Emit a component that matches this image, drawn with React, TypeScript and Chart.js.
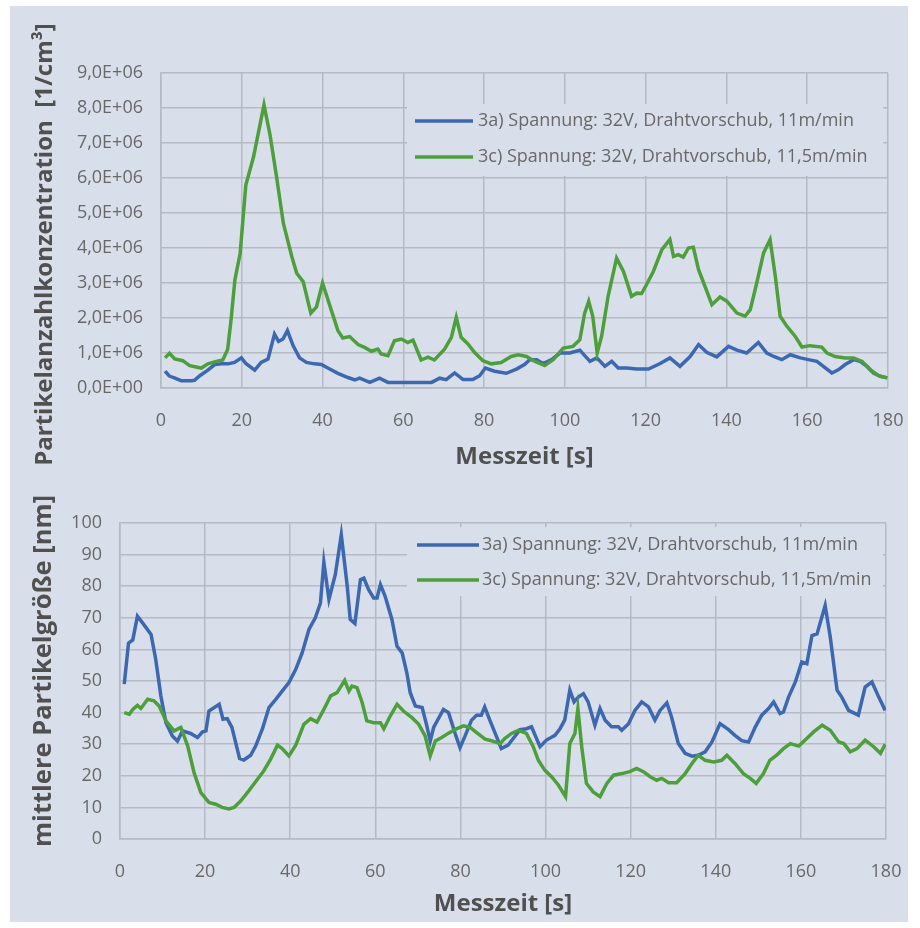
import React, { useEffect, useRef } from "react";
import { Chart, registerables } from "chart.js";

Chart.register(...registerables);

// ---------- Data: top chart (Partikelanzahlkonzentration, in 1E+06 /cm³) ----------
const topBlueT = [1, 2, 3, 5, 7.5, 8.3, 9.6, 11.6, 13.3, 15, 16.6, 18.2, 19.9, 21, 23.2, 24.8, 26.5, 28.1, 29.1, 30.2, 31.3, 32.7, 34.3, 36, 38, 39.7, 41.3, 43.8, 46.3, 48, 49.2, 51.7, 54.1, 56.2, 58.7, 67, 69, 70.6, 72.7, 74.8, 77.2, 78.9, 80.3, 82.6, 85.5, 88, 90, 91.3, 93, 94.6, 96.7, 98.8, 101.2, 103.7, 106.2, 107.9, 109.9, 111.6, 113.2, 115.3, 117.8, 120.7, 123.6, 126, 128.5, 131, 133.1, 135.1, 137.6, 140.5, 142.6, 145, 147.9, 150, 151.7, 153.7, 155.8, 158.3, 160.3, 162.4, 164, 166.1, 167.7, 169.4, 171.5, 173.1, 174.8, 176.4, 178.1, 179.8];
const topBlueV = [0.48, 0.35, 0.3, 0.21, 0.21, 0.22, 0.35, 0.51, 0.67, 0.69, 0.69, 0.73, 0.86, 0.7, 0.51, 0.73, 0.83, 1.54, 1.33, 1.4, 1.64, 1.21, 0.86, 0.73, 0.69, 0.67, 0.57, 0.42, 0.3, 0.23, 0.28, 0.16, 0.28, 0.16, 0.16, 0.16, 0.28, 0.24, 0.43, 0.24, 0.24, 0.35, 0.57, 0.48, 0.42, 0.54, 0.67, 0.81, 0.81, 0.7, 0.81, 1.0, 1.0, 1.08, 0.76, 0.86, 0.62, 0.76, 0.57, 0.57, 0.54, 0.54, 0.7, 0.86, 0.62, 0.9, 1.24, 1.02, 0.89, 1.19, 1.08, 1.0, 1.3, 1.0, 0.9, 0.81, 0.95, 0.86, 0.81, 0.76, 0.62, 0.43, 0.52, 0.67, 0.81, 0.76, 0.62, 0.43, 0.33, 0.29];

const topGreenT = [1, 2.1, 3.4, 5.4, 7.1, 10, 11.6, 13.7, 15.3, 16.5, 17.3, 18.3, 19.6, 21, 22.9, 25.5, 27, 28.6, 30.3, 32.4, 33.6, 35.2, 37.1, 38.5, 40, 42.2, 43.8, 45, 46.7, 48.8, 50.4, 52.1, 53.7, 54.5, 56.2, 57.8, 59.5, 61.1, 62.4, 64.4, 66.1, 67.7, 70.2, 71.9, 73.1, 74.3, 76, 77.6, 79.7, 81.8, 84.2, 86.7, 88.4, 90.5, 92.6, 95, 97.1, 99.6, 102, 103.7, 104.9, 105.9, 106.9, 108, 109.1, 110.7, 112.8, 114.5, 116.5, 117.8, 119, 120.2, 121.9, 124, 126, 126.9, 128.1, 129.3, 130.6, 131.8, 133.1, 134.7, 136.4, 138.4, 140.1, 142.6, 144.6, 145.9, 147.5, 149.2, 150.8, 152.1, 153.3, 155, 157, 158.7, 160.7, 163.6, 164.9, 166.9, 169.4, 171.5, 173.6, 175.6, 177.7, 179.8];
const topGreenV = [0.86, 0.99, 0.83, 0.78, 0.64, 0.57, 0.69, 0.76, 0.8, 1.1, 1.9, 3.09, 3.85, 5.8, 6.6, 8.09, 7.23, 6.04, 4.7, 3.75, 3.28, 3.04, 2.14, 2.32, 3.0, 2.21, 1.64, 1.43, 1.47, 1.24, 1.16, 1.05, 1.11, 0.97, 0.92, 1.35, 1.4, 1.3, 1.37, 0.8, 0.88, 0.8, 1.11, 1.45, 2.02, 1.45, 1.26, 1.02, 0.78, 0.69, 0.73, 0.9, 0.95, 0.9, 0.76, 0.64, 0.81, 1.14, 1.19, 1.38, 2.14, 2.48, 2.05, 1.0, 1.48, 2.62, 3.71, 3.33, 2.62, 2.71, 2.7, 2.95, 3.33, 3.95, 4.24, 3.76, 3.81, 3.74, 4.0, 4.02, 3.38, 2.9, 2.38, 2.6, 2.48, 2.14, 2.05, 2.24, 3.0, 3.86, 4.24, 3.19, 2.05, 1.76, 1.48, 1.17, 1.21, 1.17, 1.0, 0.9, 0.86, 0.86, 0.76, 0.52, 0.35, 0.29];

// ---------- Data: bottom chart (mittlere Partikelgröße, nm) ----------
const botBlueT = [1, 2, 3, 4.1, 5.3, 7.3, 8.4, 9.6, 10.8, 12.3, 13.5, 14.7, 16.6, 18.2, 19.4, 20.2, 20.9, 23.3, 24.2, 25.2, 26.3, 28.1, 29.1, 30.7, 31.9, 33.5, 35, 36.6, 38.1, 39.7, 41.3, 42.8, 44.4, 45.9, 47.1, 47.9, 49.1, 50.6, 52, 53.4, 54.1, 55.2, 56.5, 57.3, 58.4, 59.6, 60.4, 61.2, 62.3, 63.9, 65.1, 66.3, 67.4, 68.2, 69.4, 71, 72.1, 72.9, 73.7, 76, 77.2, 78.8, 79.9, 81, 82.6, 83.8, 84.9, 85.7, 86.9, 88.5, 89.6, 91.2, 92.4, 94, 95.5, 96.7, 98.7, 100.2, 102.2, 103.4, 104.5, 105.7, 106.7, 107.7, 108.9, 110, 111.6, 112.8, 114, 115.5, 117.1, 117.9, 119.5, 121, 122.6, 124.2, 125.7, 126.9, 128.5, 129.6, 131.2, 132.8, 134.4, 135.9, 137.5, 139.1, 141, 143, 144.5, 146.1, 147.7, 149.3, 150.8, 152.4, 153.6, 155.1, 155.9, 157.1, 158.7, 160.2, 161.4, 162.6, 163.8, 165.7, 166.9, 168.5, 169.6, 171.2, 173.5, 175.1, 176.7, 178.3, 179.8];
const botBlueV = [49, 62, 63, 70.5, 68.4, 64.7, 56.8, 45.3, 36.8, 32.6, 31, 34.2, 33.4, 32.1, 33.9, 34.2, 40.5, 42.6, 37.9, 38.1, 35.3, 25.5, 25, 26.5, 29.5, 35, 41.6, 44.2, 46.8, 49.5, 53.7, 58.9, 66.3, 70, 74.7, 87.6, 75.8, 83.7, 96.3, 80, 69.5, 68.2, 82.1, 82.6, 79, 76.3, 76.3, 80.5, 76.8, 69.5, 61, 58.9, 52.6, 46.3, 42.1, 41.6, 35.8, 31, 35.3, 41, 40, 33.2, 28.9, 32.3, 37.6, 39.2, 39.2, 41.8, 37.6, 32.3, 28.6, 29.7, 31.8, 34.6, 34.9, 35.5, 29.2, 31.3, 32.8, 34.9, 37.6, 47.1, 43.4, 44.9, 46, 43.4, 36, 41.3, 37.6, 35.5, 35.5, 34.4, 36.5, 40.7, 43.4, 41.8, 37.6, 40.7, 43.1, 38.6, 30.2, 27.1, 26.2, 26.5, 27.6, 30.7, 36.5, 34.6, 32.8, 31.1, 30.7, 35.5, 39.2, 41.3, 43.4, 39.7, 40.2, 44.9, 49.7, 56, 55.5, 64.4, 64.9, 73.9, 63.9, 47.1, 44.9, 40.7, 39.2, 48.1, 49.7, 44.9, 40.7];

const botGreenT = [1, 2.2, 3, 4.1, 4.9, 6.5, 8, 9.2, 10.8, 12.7, 14.3, 15.9, 17.4, 19, 20.9, 22.5, 24, 25.6, 26.8, 28.4, 30.3, 32.3, 33.8, 35.4, 37, 38.1, 39.7, 41.3, 43.2, 44.8, 46.3, 47.9, 49.5, 51, 52.8, 53.8, 54.5, 55.7, 56.9, 58, 59.6, 61.2, 62, 63.5, 65.1, 66.6, 68.6, 70.2, 71.7, 72.9, 74.1, 75.6, 77.2, 78.8, 80.7, 82.3, 83.8, 85.8, 87.3, 89.3, 90.4, 92, 93.6, 95.5, 97.1, 98.3, 99.8, 101.4, 103, 104.7, 105.7, 106.9, 107.6, 108.5, 109.6, 111.2, 112.8, 114.4, 116, 117.9, 119.8, 121.4, 123, 124.6, 126.1, 127.3, 128.9, 130.8, 132.8, 134.4, 135.9, 137.5, 139.5, 141.4, 142.6, 144.5, 146.5, 148.1, 149.5, 151.2, 152.7, 154.3, 155.9, 157.5, 159.5, 161, 163, 165, 166.9, 168.9, 170.1, 171.6, 173.2, 175.1, 177.1, 178.7, 179.8];
const botGreenV = [40, 39.5, 41, 42.3, 41.3, 44.2, 43.7, 42.1, 37.4, 34.2, 35.3, 29.5, 21, 14.7, 11.6, 11, 10, 9.5, 10, 12.1, 15.3, 18.9, 21.6, 25.3, 29.7, 28.6, 26.3, 29.7, 36.3, 38.1, 37, 41, 45.3, 46.3, 50.2, 46.8, 48.4, 47.9, 43.2, 37.4, 36.8, 36.8, 34.9, 38.9, 42.6, 40.5, 38.4, 36.3, 32.6, 26.3, 31, 32.1, 33.5, 34.7, 35.8, 35.3, 33.7, 31.6, 31.1, 30.2, 31.8, 33.4, 34.4, 33.4, 29.2, 24.9, 21.8, 19.7, 17.1, 13.4, 30.2, 33.4, 41.3, 29.2, 17.6, 14.9, 13.4, 17.6, 20.2, 20.7, 21.3, 22.3, 21.3, 19.7, 18.6, 19.2, 17.8, 17.8, 20.7, 23.9, 26.5, 24.9, 24.4, 24.9, 26.5, 23.9, 20.7, 19.2, 17.6, 20.7, 24.9, 26.5, 28.6, 30.2, 29.4, 31.3, 33.9, 36, 34.4, 30.7, 30.2, 27.6, 28.6, 31.3, 29.2, 27.1, 30];

const seriesLabels = [
  "3a) Spannung: 32V, Drahtvorschub, 11m/min",
  "3c) Spannung: 32V, Drahtvorschub, 11,5m/min",
];
const topYTitle = "Partikelanzahlkonzentration  [1/cm³]";
const botYTitle = "mittlere Partikelgröße [nm]";
const xTitle = "Messzeit [s]";

// ---------- Styles ----------
const BG = "#d9dfea";
const BLUE = "#3c68b1";
const GREEN = "#4d9f3c";
const GRID = "#b6bac2";
const TICK = "#686868";
const TITLE = "#505050";
const FONT = "'Open Sans', 'Noto Sans', sans-serif";

const pts = (t: number[], v: number[], k = 1) => t.map((x, i) => ({ x, y: v[i] * k }));

// Legend drawn inside the plot area on a background box (like the Excel original)
const boxLegend = {
  id: "boxLegend",
  beforeDatasetsDraw(chart: any, _args: any, opts: any) {
    const ctx = chart.ctx as CanvasRenderingContext2D;
    ctx.save();
    ctx.fillStyle = BG;
    ctx.fillRect(opts.x, opts.y, opts.w, opts.h);
    const items = [
      { label: seriesLabels[0], color: BLUE },
      { label: seriesLabels[1], color: GREEN },
    ];
    ctx.font = `${opts.fontSize}px ${FONT}`;
    ctx.textBaseline = "middle";
    ctx.textAlign = "left";
    items.forEach((it, i) => {
      const y = opts.firstY + i * opts.gap;
      ctx.strokeStyle = it.color;
      ctx.lineWidth = 3.5;
      ctx.beginPath();
      ctx.moveTo(opts.lineX, y);
      ctx.lineTo(opts.lineX + opts.lineLen, y);
      ctx.stroke();
      ctx.fillStyle = TICK;
      ctx.fillText(it.label, opts.textX, y);
    });
    ctx.restore();
  },
};

// Draws the rotated y-axis title with an offset along the axis
const yTitlePlugin = {
  id: "yTitle",
  afterDraw(chart: any, _args: any, opts: any) {
    const ctx = chart.ctx as CanvasRenderingContext2D;
    const a = chart.chartArea;
    ctx.save();
    ctx.font = `bold ${opts.size}px ${FONT}`;
    ctx.fillStyle = TITLE;
    ctx.textAlign = "center";
    ctx.textBaseline = "middle";
    ctx.translate(opts.x, (a.top + a.bottom) / 2 + opts.shift);
    ctx.rotate(-Math.PI / 2);
    ctx.fillText(opts.text, 0, 0);
    ctx.restore();
  },
};

function makeConfig(p: {
  blue: { x: number; y: number }[];
  green: { x: number; y: number }[];
  yMax: number;
  yStep: number;
  yFmt: (v: number) => string;
  yTitle: { text: string; x: number; shift: number; size: number };
  pad: { left: number; right: number; top: number; bottom: number };
  yWidth: number;
  xHeight: number;
  xTitlePadBottom: number;
  legend: any;
}): any {
  return {
    type: "line",
    data: {
      datasets: [
        { label: seriesLabels[0], data: p.blue, borderColor: BLUE, borderWidth: 3.5, pointRadius: 0, tension: 0, order: 1 },
        { label: seriesLabels[1], data: p.green, borderColor: GREEN, borderWidth: 3.5, pointRadius: 0, tension: 0, order: 0 },
      ],
    },
    options: {
      responsive: false,
      animation: false,
      layout: { padding: p.pad },
      plugins: { legend: { display: false }, tooltip: { enabled: false }, boxLegend: p.legend, yTitle: p.yTitle },
      scales: {
        x: {
          type: "linear",
          min: 0,
          max: 180,
          ticks: { stepSize: 20, color: TICK, font: { family: FONT, size: 18 }, padding: 12, maxRotation: 0 },
          grid: { color: GRID, lineWidth: 1.5, drawTicks: true, tickLength: 10, tickColor: "rgba(0,0,0,0)" },
          border: { color: GRID, width: 1.5 },
          title: {
            display: true,
            text: xTitle,
            color: TITLE,
            font: { family: FONT, size: 24, weight: "bold" },
            padding: { top: 0, bottom: p.xTitlePadBottom },
          },
          afterFit: (s: any) => {
            s.height = p.xHeight;
          },
        },
        y: {
          min: 0,
          max: p.yMax,
          ticks: { stepSize: p.yStep, color: TICK, font: { family: FONT, size: 18 }, padding: 18, callback: (v: any) => p.yFmt(Number(v)) },
          grid: { color: GRID, lineWidth: 1.5, drawTicks: false },
          border: { color: GRID, width: 1.5 },
          title: { display: false },
          afterFit: (s: any) => {
            s.width = p.yWidth;
          },
        },
      },
    },
    plugins: [boxLegend, yTitlePlugin],
  };
}

export default function App() {
  const topRef = useRef<HTMLCanvasElement>(null);
  const botRef = useRef<HTMLCanvasElement>(null);

  useEffect(() => {
    const top = new Chart(
      topRef.current!,
      makeConfig({
        blue: pts(topBlueT, topBlueV, 1e6),
        green: pts(topGreenT, topGreenV, 1e6),
        yMax: 9e6,
        yStep: 1e6,
        yFmt: (v) => (v === 0 ? "0,0E+00" : (v / 1e6).toFixed(1).replace(".", ",") + "E+06"),
        yTitle: { text: topYTitle, x: 45, shift: 14, size: 24 },
        pad: { left: 31, right: 32, top: 73, bottom: 0 },
        yWidth: 130,
        xHeight: 86,
        xTitlePadBottom: 2,
        legend: { x: 407, y: 104, w: 476, h: 72, firstY: 121, gap: 36, lineX: 415, lineLen: 58, textX: 478, fontSize: 18 },
      })
    );
    const bot = new Chart(
      botRef.current!,
      makeConfig({
        blue: pts(botBlueT, botBlueV),
        green: pts(botGreenT, botGreenV),
        yMax: 100,
        yStep: 10,
        yFmt: (v) => String(v),
        yTitle: { text: botYTitle, x: 44, shift: -10, size: 25.5 },
        pad: { left: 30, right: 34, top: 49, bottom: 0 },
        yWidth: 90,
        xHeight: 89,
        xTitlePadBottom: 9,
        legend: { x: 407, y: 53, w: 476, h: 69, firstY: 71, gap: 35, lineX: 417, lineLen: 62, textX: 482, fontSize: 18 },
      })
    );
    return () => {
      top.destroy();
      bot.destroy();
    };
  }, []);

  return (
    <div style={{ position: "fixed", left: 0, top: 0, width: 920, height: 928, background: "#ffffff", overflow: "hidden" }}>
      <div style={{ position: "absolute", left: 10, top: 6, width: 898, height: 916, background: BG }} />
      <canvas ref={topRef} width={920} height={474} style={{ position: "absolute", left: 0, top: 0, display: "block" }} />
      <canvas ref={botRef} width={920} height={454} style={{ position: "absolute", left: 0, top: 474, display: "block" }} />
    </div>
  );
}
